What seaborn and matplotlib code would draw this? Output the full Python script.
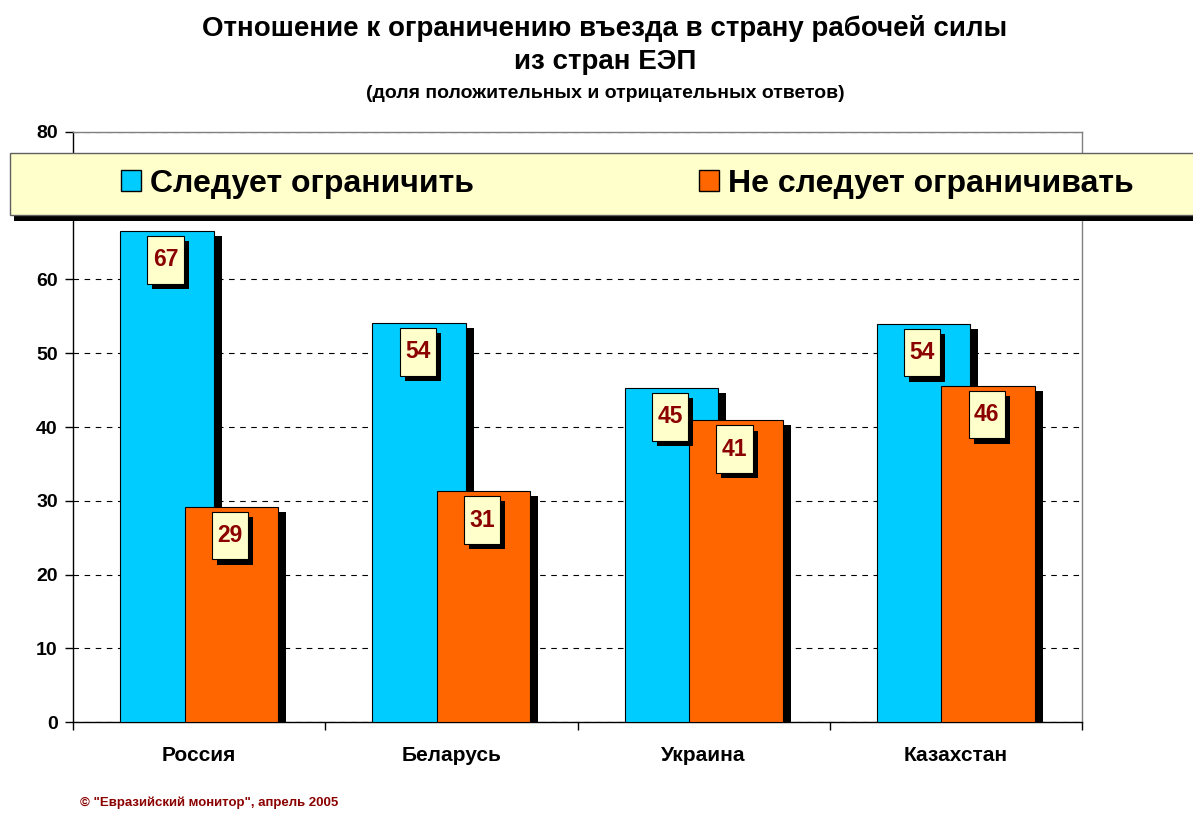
import numpy as np
import pandas as pd
import matplotlib
matplotlib.use("Agg")
import matplotlib.pyplot as plt
import matplotlib.patheffects as pe
from matplotlib.patches import Patch, Rectangle
from matplotlib.ticker import FixedLocator
import seaborn as sns

# ---------------- data ----------------
countries = ["Россия", "Беларусь", "Украина", "Казахстан"]
series_names = ["Следует ограничить", "Не следует ограничивать"]
restrict = [66.6, 54.1, 45.3, 54.0]
not_restrict = [29.2, 31.3, 40.9, 45.6]
yticks = [0, 10, 20, 30, 40, 50, 60, 70, 80]

title_line1 = "Отношение к ограничению въезда в страну рабочей силы"
title_line2 = "из стран ЕЭП"
subtitle = "(доля положительных и отрицательных ответов)"
footer = "© \"Евразийский монитор\", апрель 2005"

BLUE = "#00CCFF"
ORANGE = "#FF6600"
PALE = "#FFFFCC"
DARKRED = "#8B0000"

sns.set_theme(style="ticks")
plt.rcParams["font.family"] = ["Liberation Sans", "DejaVu Sans"]
plt.rcParams["font.weight"] = "bold"
plt.rcParams["text.color"] = "black"
plt.rcParams["xtick.color"] = "black"
plt.rcParams["ytick.color"] = "black"
plt.rcParams["xtick.labelcolor"] = "black"
plt.rcParams["ytick.labelcolor"] = "black"

df = pd.DataFrame({
    "country": countries * 2,
    "value": restrict + not_restrict,
    "series": [series_names[0]] * 4 + [series_names[1]] * 4,
})

fig = plt.figure(figsize=(11.93, 8.13), dpi=100)
ax = fig.add_axes([73 / 1193, 1 - 722 / 813, (1082 - 73) / 1193, (722 - 132) / 813])

sns.barplot(data=df, x="country", y="value", hue="series", order=countries,
            hue_order=series_names, palette=[BLUE, ORANGE], saturation=1,
            width=0.74, dodge=True, edgecolor="black", linewidth=0.8,
            legend=False, ax=ax, zorder=3)

bar_w = 0.37
off = 0.128
shadow = [pe.SimplePatchShadow(offset=(5.8, -3.6), shadow_rgbFace="black", alpha=1.0), pe.Normal()]
for p in ax.patches:
    cx = p.get_x() + p.get_width() / 2
    cat = round(cx)
    sign = -1 if cx < cat else 1
    new_c = cat + sign * off
    p.set_x(new_c - bar_w / 2)
    p.set_width(bar_w)
    p.set_zorder(3 if sign < 0 else 4)
    p.set_path_effects(shadow)
    h = p.get_height()
    t = ax.annotate(f"{h:.0f}", xy=(new_c, h), xytext=(-1, -12.5), textcoords="offset points",
                    ha="center", va="top", fontsize=16.5, fontweight="bold", color=DARKRED,
                    bbox=dict(boxstyle="square,pad=0.234", fc=PALE, ec="black", lw=0.8,
                              mutation_aspect=2.3),
                    zorder=10)
    t.get_bbox_patch().set_path_effects(
        [pe.SimplePatchShadow(offset=(3.6, -3.8), shadow_rgbFace="black", alpha=1.0), pe.Normal()])

ax.set_xlim(-0.5, 3.5)
ax.set_ylim(0, 80)
ax.set_yticks(yticks)
ax.set_yticklabels([str(v) for v in yticks])
ax.set_xlabel("")
ax.set_ylabel("")
ax.set_axisbelow(True)
ax.yaxis.grid(True, linestyle=(0, (5, 5)), color="black", linewidth=0.8)
ax.xaxis.grid(False)

for s in ["top", "right"]:
    ax.spines[s].set_visible(True)
    ax.spines[s].set_color("#808080")
    ax.spines[s].set_linewidth(1)
for s in ["left", "bottom"]:
    ax.spines[s].set_color("black")
    ax.spines[s].set_linewidth(1)

ax.tick_params(axis="y", direction="out", length=6, width=1, color="black",
               labelsize=14, pad=5, labelcolor="black")
ax.tick_params(axis="x", which="major", length=0, labelsize=15, pad=17, labelcolor="black")
ax.xaxis.set_minor_locator(FixedLocator(np.arange(-0.5, 4.0, 1.0)))
ax.tick_params(axis="x", which="minor", direction="out", length=6, width=1, color="black")
for lbl in ax.get_xticklabels() + ax.get_yticklabels():
    lbl.set_fontweight("bold")

# legend band
band = Rectangle((10 / 1193, 1 - 215 / 813), 1.2, 62 / 813, transform=fig.transFigure,
                 fc=PALE, ec="#606060", lw=1, zorder=5)
band.set_path_effects([pe.SimplePatchShadow(offset=(2.9, -4.3), shadow_rgbFace="black", alpha=1.0),
                       pe.Normal()])
fig.add_artist(band)

handles = [Patch(facecolor=BLUE, edgecolor="black", linewidth=1),
           Patch(facecolor=ORANGE, edgecolor="black", linewidth=1)]
leg = fig.legend(handles, series_names, loc="center left",
                 bbox_to_anchor=(121 / 1193, 1 - 184 / 813), ncol=2, frameon=False,
                 prop={"size": 23, "weight": "bold"}, handlelength=0.63, handleheight=0.63,
                 handletextpad=0.28, columnspacing=7.05, borderpad=0, borderaxespad=0)
leg.set_zorder(6)

fig.text(0.507, 1 - 28 / 813, title_line1, ha="center", va="center", fontsize=20, fontweight="bold")
fig.text(0.507, 1 - 62 / 813, title_line2, ha="center", va="center", fontsize=20, fontweight="bold")
fig.text(0.507, 1 - 94 / 813, subtitle, ha="center", va="center", fontsize=14, fontweight="bold")
fig.text(80 / 1193, 1 - 803 / 813, footer, ha="left", va="center", fontsize=9.5,
         fontweight="bold", color=DARKRED)

fig.savefig("out.png", dpi=100)
